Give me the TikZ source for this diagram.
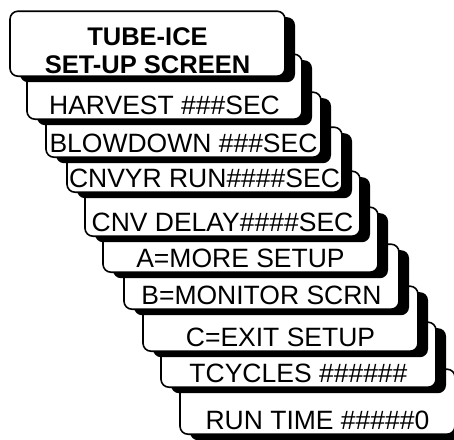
\documentclass[tikz,border=0pt]{standalone}
\usepackage{fontspec}
\setmainfont{Liberation Sans}
\usetikzlibrary{shadows}
\tikzset{
  card/.style={draw=black, line width=1.6pt, fill=white, rounded corners=8pt,
    minimum width=275pt, minimum height=65pt, inner xsep=0pt, inner ysep=0pt,
    text height=60pt, text depth=5pt, anchor=south,
    font=\fontsize{26.5}{30}\selectfont,
    drop shadow={shadow xshift=10pt, shadow yshift=-6pt, fill=black, opacity=1}},
  titletext/.style={anchor=base, inner sep=0pt, font=\fontsize{25.5}{30}\selectfont\bfseries}
}
\begin{document}
\begin{tikzpicture}[x=1pt,y=1pt]
\useasboundingbox (0,0) rectangle (454,-439);
\node[card] (c10) at (317.5,-435) {RUN TIME \#\#\#\#\#0};
\node[card] (c9) at (298.5,-388) {TCYCLES \#\#\#\#\#\#};
\node[card] (c8) at (280.5,-352) {C=EXIT SETUP};
\node[card] (c7) at (261.5,-310) {B=MONITOR SCRN};
\node[card] (c6) at (240.5,-273) {A=MORE SETUP};
\node[card] (c5) at (222.5,-237) {CNV DELAY\#\#\#\#SEC};
\node[card] (c4) at (204.5,-193) {CNVYR RUN\#\#\#\#SEC};
\node[card] (c3) at (183.5,-158) {BLOWDOWN \#\#\#SEC};
\node[card] (c2) at (164.5,-120) {HARVEST \#\#\#SEC};
\node[card] (c1) at (147.5,-77) {};
\node[titletext] (t1a) at (147.5,-45) {TUBE-ICE};
\node[titletext] (t1b) at (147.5,-73.3) {SET-UP SCREEN};
\end{tikzpicture}
\end{document}
